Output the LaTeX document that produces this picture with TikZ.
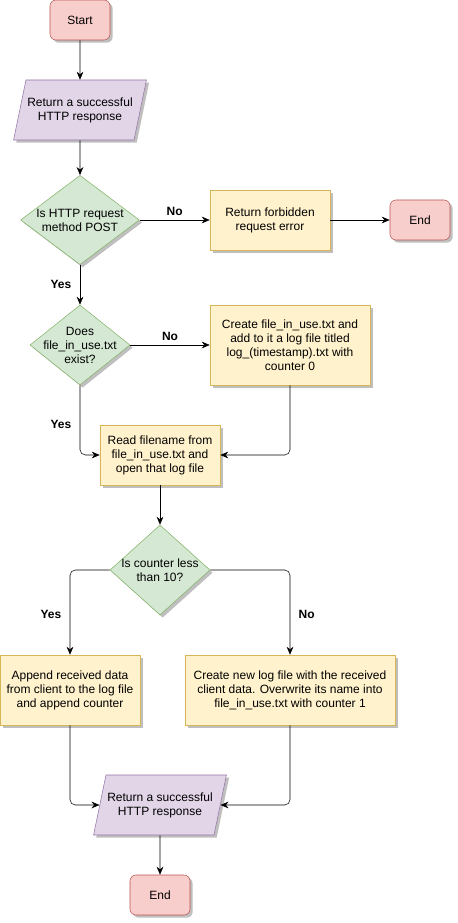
\documentclass[tikz,border=0pt]{standalone}
\usepackage{fontspec}
\setmainfont{Liberation Sans}
\usetikzlibrary{shapes.geometric,arrows.meta,shadows}

\definecolor{termfill}{HTML}{F8CECC}
\definecolor{termline}{HTML}{B85450}
\definecolor{iofill}{HTML}{E1D5E7}
\definecolor{ioline}{HTML}{9673A6}
\definecolor{askfill}{HTML}{D5E8D4}
\definecolor{askline}{HTML}{82B366}
\definecolor{taskfill}{HTML}{FFF2CC}
\definecolor{taskline}{HTML}{D6B656}

\tikzset{
  shade/.style={drop shadow={shadow xshift=2pt,shadow yshift=-2pt,opacity=0.25,fill=black}},
  terminal/.style={draw=termline,fill=termfill,rounded corners=4.5pt,shade,
    minimum width=45pt,minimum height=30pt},
  io/.style={draw=ioline,fill=iofill,shade,trapezium,trapezium left angle=70,
    trapezium right angle=110,trapezium stretches body,inner xsep=1pt,
    minimum width=97.5pt,minimum height=45pt,align=center},
  decision/.style={draw=askline,fill=askfill,shade,diamond,inner sep=0pt,
    label={[align=center]center:#1}},
  task/.style={draw=taskline,fill=taskfill,shade,align=center},
  flow/.style={draw,-{Stealth[length=6pt,width=5pt]}},
  tag/.style={font=\fontsize{9}{10.5}\selectfont\bfseries}
}

\begin{document}
\begin{tikzpicture}[x=0.75pt,y=-0.75pt,font=\fontsize{9}{10.5}\selectfont]
  \useasboundingbox (0,0) rectangle (457,923);

  % Top part
  \node[terminal] (start) at (80,20) {Start};
  \node[io] (resp1) at (80,110) {Return a successful\\HTTP response};
  \node[decision={Is HTTP request\\method POST},minimum width=89pt,minimum height=67pt] (post) at (80,220) {};
  \node[task,minimum width=90pt,minimum height=45pt] (forbid) at (270,220) {Return forbidden\\request error};
  \node[terminal] (end1) at (420,220) {End};

  % File check
  \node[decision={Does\\file\_in\_use.txt\\exist?},minimum width=75pt,minimum height=60pt] (exist) at (80,345) {};
  \node[task,minimum width=120pt,minimum height=60pt] (create) at (290,345) {Create file\_in\_use.txt and\\add to it a log file titled\\log\_(timestamp).txt with\\counter 0};
  \node[task,minimum width=90pt,minimum height=45pt] (read) at (160,455) {Read filename from\\file\_in\_use.txt and\\open that log file};

  % Counter check
  \node[decision={Is counter less\\than 10?},minimum width=75pt,minimum height=67.5pt] (count) at (160,570) {};
  \node[task,minimum width=105pt,minimum height=52.5pt] (append) at (70,690) {Append received data\\from client to the log file\\and append counter};
  \node[task,minimum width=157.5pt,minimum height=52.5pt] (newlog) at (290,690) {Create new log file with the received\\client data. Overwrite its name into\\file\_in\_use.txt with counter 1};
  \node[io] (resp2) at (160,805) {Return a successful\\HTTP response};
  \node[terminal] (end2) at (160,895) {End};

  % Connectors
  \draw[flow] (start) -- (resp1);
  \draw[flow] (resp1) -- (post);
  \draw[flow] (post) -- node[tag,above] {No} (forbid);
  \draw[flow] (forbid) -- (end1);
  \draw[flow] (post) -- node[tag,left,xshift=-3pt] {Yes} (exist);
  \draw[flow] (exist) -- node[tag,above] {No} (create);
  \draw[flow,rounded corners=4pt] (exist.south) |- node[tag,pos=0.28,left,xshift=-3pt] {Yes} (read.west);
  \draw[flow,rounded corners=4pt] (create.south) |- (read.east);
  \draw[flow] (read) -- (count);
  \draw[flow,rounded corners=4pt] (count.west) -| node[tag,pos=0.76,left,xshift=-3pt] {Yes} (append.north);
  \draw[flow,rounded corners=4pt] (count.east) -| node[tag,pos=0.76,right,xshift=3pt] {No} (newlog.north);
  \draw[flow,rounded corners=4pt] (append.south) |- (resp2.west);
  \draw[flow,rounded corners=4pt] (newlog.south) |- (resp2.east);
  \draw[flow] (resp2) -- (end2);
\end{tikzpicture}
\end{document}
